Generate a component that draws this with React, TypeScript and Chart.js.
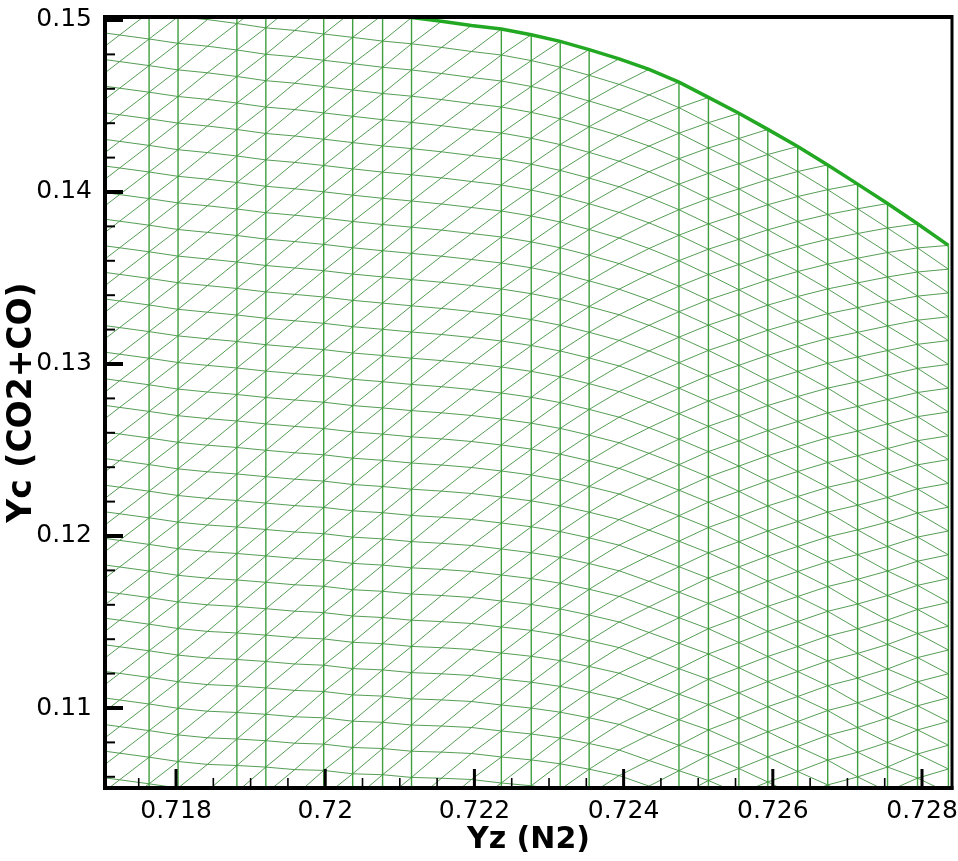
import React, { useEffect, useRef } from "react";
import { Chart, registerables } from "chart.js";

Chart.register(...registerables);

// ---- axis ranges and ticks ----
const X_MIN = 0.717048;
const X_MAX = 0.728402;
const Y_MIN = 0.105349;
const Y_MAX = 0.150174;
const X_TICKS = [0.718, 0.72, 0.722, 0.724, 0.726, 0.728];
const X_MINOR = [0.7175, 0.7185, 0.719, 0.7195, 0.7205, 0.721, 0.7215, 0.7225, 0.723, 0.7235, 0.7245, 0.725, 0.7255, 0.7265, 0.727, 0.7275];
const Y_TICKS = [0.11, 0.12, 0.13, 0.14, 0.15];
const Y_MINOR = [0.106, 0.108, 0.112, 0.114, 0.116, 0.118, 0.122, 0.124, 0.126, 0.128, 0.132, 0.134, 0.136, 0.138, 0.142, 0.144, 0.146, 0.148];

// ---- mesh columns ----
const COL_X = [0.716849, 0.717244, 0.717639, 0.718027, 0.718421, 0.718816, 0.719204, 0.719592, 0.71998, 0.720368, 0.720769, 0.721157, 0.721558, 0.72196, 0.722361, 0.722762, 0.72315, 0.723538, 0.72394, 0.724341, 0.724742, 0.725137, 0.725545, 0.725933, 0.726334, 0.726736, 0.727137, 0.727538, 0.72794, 0.728354];
const COL_HAS_VERTICAL = [0, 0, 1, 1, 0, 1, 1, 0, 1, 1, 1, 1, 0, 0, 1, 1, 1, 1, 0, 0, 1, 1, 1, 1, 1, 1, 1, 1, 1, 1];
const COL_ROW0_Y = [0.133895, 0.133663, 0.13343, 0.13318, 0.133012, 0.132849, 0.132657, 0.132512, 0.132366, 0.132169, 0.132017, 0.13186, 0.131715, 0.131541, 0.131337, 0.131076, 0.130756, 0.130349, 0.129884, 0.129273, 0.128593, 0.127849, 0.126994, 0.126128, 0.125203, 0.124273, 0.123227, 0.122238, 0.121337, 0.120291];
const COL_ROW_STEP = [0.0015465, 0.0015465, 0.0015465, 0.0015465, 0.0015465, 0.0015407, 0.0015349, 0.0015349, 0.0015291, 0.0015291, 0.0015233, 0.0015233, 0.0015175, 0.0015116, 0.0015116, 0.0015058, 0.0015, 0.0014942, 0.0014884, 0.0014884, 0.0014826, 0.0014709, 0.0014651, 0.0014593, 0.0014535, 0.0014419, 0.0014361, 0.0014244, 0.0014012, 0.0013837];
const ROW_MIN = -21;
const ROW_MAX = 12;

// ---- upper boundary of the domain ----
const BOUNDARY_X = [0.720368, 0.720769, 0.721157, 0.721558, 0.72196, 0.722361, 0.722762, 0.72315, 0.723538, 0.72394, 0.724341, 0.724742, 0.725137, 0.725545, 0.725933, 0.726334, 0.726736, 0.727137, 0.727538, 0.72794, 0.728354];
const BOUNDARY_Y = [0.150517, 0.150297, 0.15014, 0.149924, 0.14968, 0.149477, 0.149145, 0.148756, 0.148279, 0.147744, 0.147134, 0.146384, 0.1455, 0.144576, 0.14364, 0.142645, 0.141576, 0.140459, 0.139331, 0.138151, 0.136895];

type P = { x: number; y: number | null };

function buildMesh() {
  const vert: P[] = [];
  const diag: P[] = [];
  const nodeY = (i: number, j: number) => COL_ROW0_Y[i] + j * COL_ROW_STEP[i];
  for (let i = 0; i < COL_X.length; i++) {
    for (let j = ROW_MIN; j <= ROW_MAX; j++) {
      const x = COL_X[i];
      const y = nodeY(i, j);
      if (COL_HAS_VERTICAL[i] && j < ROW_MAX) {
        vert.push({ x, y }, { x, y: nodeY(i, j + 1) }, { x, y: null });
      }
      if (i + 1 < COL_X.length) {
        const x2 = COL_X[i + 1];
        if (j < ROW_MAX) diag.push({ x, y }, { x: x2, y: nodeY(i + 1, j) }, { x: x2, y: null });
        if (j + 1 <= ROW_MAX) diag.push({ x, y }, { x: x2, y: nodeY(i + 1, j + 1) }, { x: x2, y: null });
      }
    }
  }
  return { vert, diag };
}

const fmt = (v: number | string) => String(parseFloat(Number(v).toFixed(4)));

const framePlugin = {
  id: "framePlugin",
  afterDatasetsDraw(chart: any) {
    const { ctx, chartArea: a, scales } = chart;
    const xs = scales.x;
    const ys = scales.y;
    ctx.save();
    ctx.strokeStyle = "#000";
    ctx.lineCap = "butt";
    const seg = (x1: number, y1: number, x2: number, y2: number) => {
      ctx.beginPath();
      ctx.moveTo(x1, y1);
      ctx.lineTo(x2, y2);
      ctx.stroke();
    };
    ctx.lineWidth = 3;
    for (const v of X_TICKS) {
      const p = xs.getPixelForValue(v);
      seg(p, a.bottom, p, a.bottom - 19);
    }
    ctx.lineWidth = 1.6;
    for (const v of X_MINOR) {
      const p = xs.getPixelForValue(v);
      seg(p, a.bottom, p, a.bottom - 10);
    }
    ctx.lineWidth = 4;
    for (const v of Y_TICKS) {
      const p = ys.getPixelForValue(v);
      seg(a.left, p, a.left + 18, p);
    }
    ctx.lineWidth = 2;
    for (const v of Y_MINOR) {
      const p = ys.getPixelForValue(v);
      seg(a.left, p, a.left + 10, p);
    }
    ctx.lineWidth = 4;
    seg(a.left - 2, a.top, a.right, a.top);
    seg(a.left, a.top, a.left, a.bottom);
    seg(a.left - 2, a.bottom, a.right + 1.5, a.bottom);
    ctx.lineWidth = 3;
    seg(a.right, a.top - 2, a.right, a.bottom + 2);
    ctx.restore();
  },
};

export default function App() {
  const ref = useRef<HTMLCanvasElement | null>(null);
  useEffect(() => {
    if (!ref.current) return;
    const { vert, diag } = buildMesh();
    const boundary = BOUNDARY_X.map((x, i) => ({ x, y: BOUNDARY_Y[i] }));
    const chart = new Chart(ref.current, {
      type: "line",
      data: {
        datasets: [
          {
            label: "boundary",
            data: boundary,
            borderColor: "#22a822",
            borderWidth: 3.5,
            pointRadius: 0,
            clip: 0,
          } as any,
          {
            label: "vertical",
            data: vert,
            borderColor: "#3f9f3f",
            borderWidth: 1.4,
            pointRadius: 0,
            spanGaps: false,
            clip: 0,
          } as any,
          {
            label: "diagonal",
            data: diag,
            borderColor: "rgba(55,140,55,0.85)",
            borderWidth: 1,
            pointRadius: 0,
            spanGaps: false,
            clip: 0,
          } as any,
        ],
      },
      options: {
        animation: false,
        responsive: false,
        devicePixelRatio: 1,
        events: [],
        layout: { padding: { top: 17, right: 6, left: 0, bottom: 0 } },
        plugins: { legend: { display: false }, tooltip: { enabled: false } },
        elements: { line: { tension: 0 } },
        scales: {
          x: {
            type: "linear",
            min: X_MIN,
            max: X_MAX,
            afterBuildTicks: (s: any) => {
              s.ticks = X_TICKS.map((v) => ({ value: v }));
            },
            afterFit: (s: any) => {
              s.height = 73;
              s.paddingLeft = 0;
              s.paddingRight = 0;
            },
            grid: { display: false, drawTicks: false },
            border: { display: false },
            ticks: {
              callback: (v: any) => fmt(v),
              color: "#000",
              padding: 8,
              maxRotation: 0,
              autoSkip: false,
              font: { family: "DejaVu Sans", size: 25 },
            },
            title: {
              display: true,
              text: "Yz (N2)",
              color: "#000",
              font: { family: "DejaVu Sans", size: 30, weight: "bold" },
              padding: { top: 0, bottom: 3 },
            },
          },
          y: {
            type: "linear",
            min: Y_MIN,
            max: Y_MAX,
            afterBuildTicks: (s: any) => {
              s.ticks = Y_TICKS.map((v) => ({ value: v }));
            },
            afterFit: (s: any) => {
              s.width = 105;
              s.paddingTop = 0;
              s.paddingBottom = 0;
            },
            grid: { display: false, drawTicks: false },
            border: { display: false },
            ticks: {
              callback: (v: any) => fmt(v),
              color: "#000",
              padding: 13,
              autoSkip: false,
              font: { family: "DejaVu Sans", size: 25 },
            },
            title: {
              display: true,
              text: "Yc (CO2+CO)",
              color: "#000",
              font: { family: "DejaVu Sans", size: 33, weight: "bold" },
              padding: { top: 3, bottom: 0 },
            },
          },
        },
      } as any,
      plugins: [framePlugin],
    });
    return () => chart.destroy();
  }, []);
  return (
    <div style={{ position: "absolute", left: 0, top: 0, width: 958, height: 861, background: "#fff" }}>
      <canvas ref={ref} width={958} height={861} style={{ display: "block" }} />
    </div>
  );
}
